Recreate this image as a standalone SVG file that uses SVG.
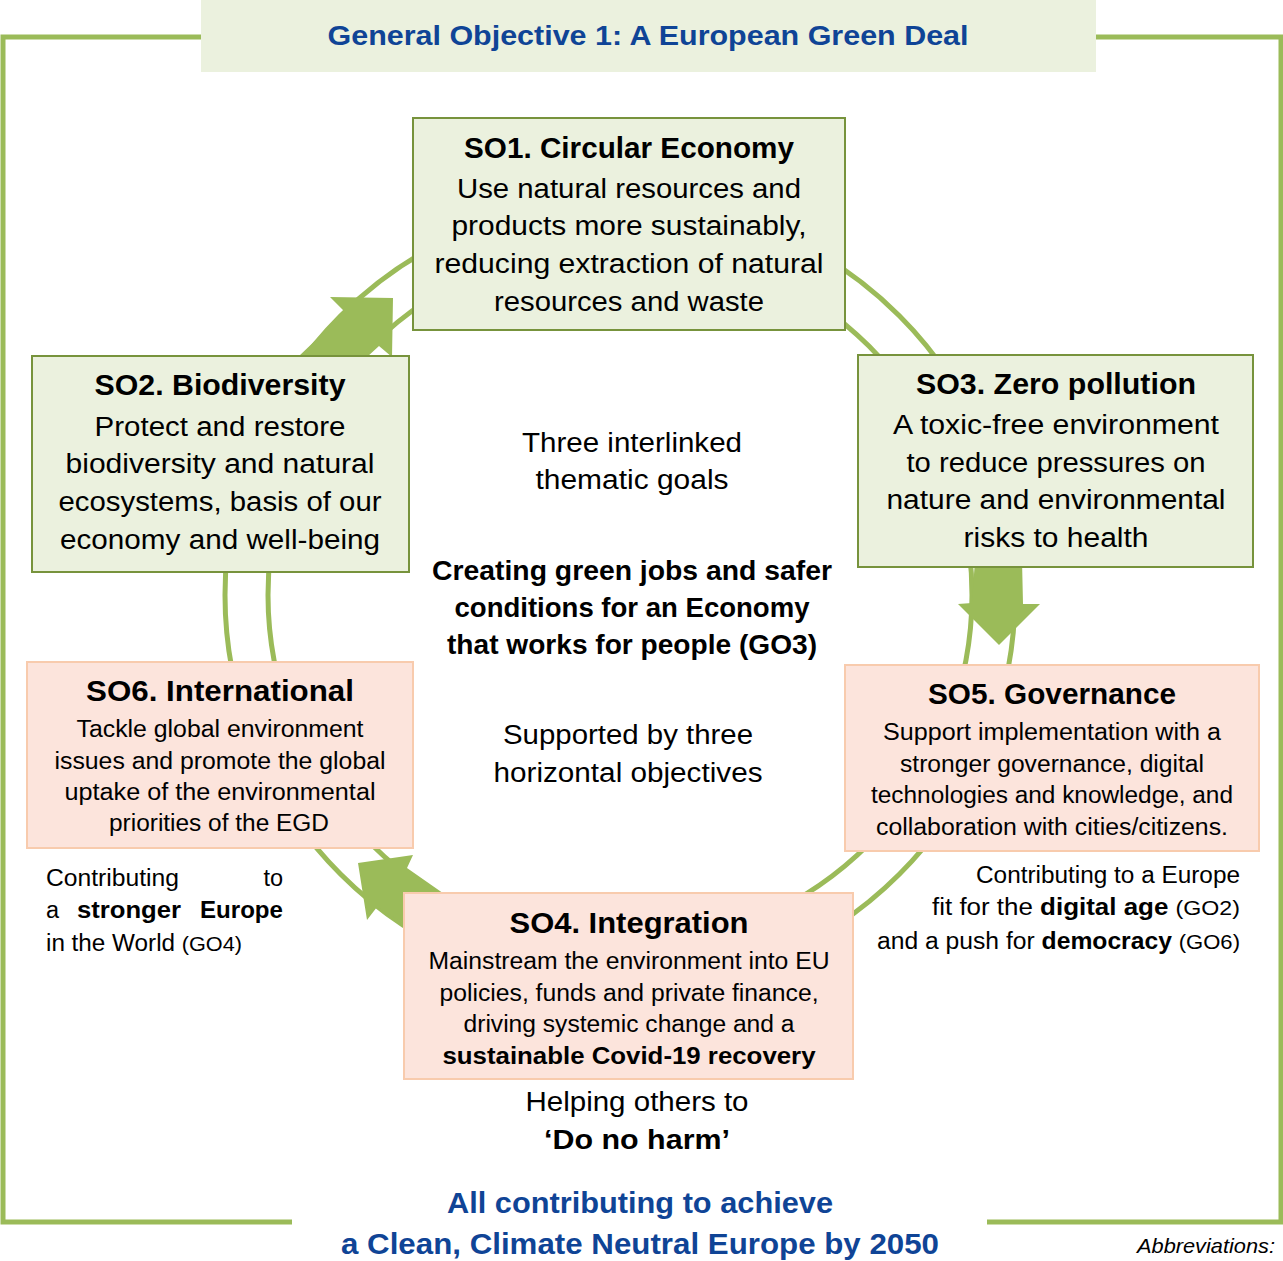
<svg xmlns="http://www.w3.org/2000/svg" width="1283" height="1261" viewBox="0 0 1283 1261">
<style>
text{font-family:"Liberation Sans",Arial,sans-serif;fill:#000}
.t{font-size:27px;text-anchor:middle}
.h{font-size:29px;font-weight:bold;text-anchor:middle}
.s{font-size:23.5px;text-anchor:middle}
.b{font-weight:bold}
.blue{fill:#0F4496;font-weight:bold;text-anchor:middle}
.g{fill:#EBF1DE;stroke:#77933C;stroke-width:2}
.p{fill:#FCE4DC;stroke:#F8CBAD;stroke-width:2}
.ring{fill:none;stroke:#9BBB59;stroke-width:5}
.arr{fill:#9BBB59}
</style>
<g id="frame">
<polyline points="201,37 3,37 3,1222 292,1222" fill="none" stroke="#9BBB59" stroke-width="5"/>
<polyline points="1096,37 1281,37 1281,1222 987,1222" fill="none" stroke="#9BBB59" stroke-width="5"/>
</g>
<g id="title">
<rect x="201" y="0" width="895" height="72" fill="#EBF1DE"/>
<text x="648" y="45" class="blue" font-size="28" textLength="641" lengthAdjust="spacingAndGlyphs">General Objective 1: A European Green Deal</text>
</g>
<g id="connectors">
<circle class="ring" cx="620" cy="595" r="395"/>
<circle class="ring" cx="620" cy="595" r="352"/>
<polygon class="arr" points="298,357 345,312 330,297 393,298 392,357 379,346 367,357"/>
<polygon class="arr" points="975,560 972,603 958,604 999,645 1040,604 1023,604 1022,560"/>
<polygon class="arr" points="358,863 413,855 407,868 470,912 440,945 377,907 367,920"/>
</g>
<g id="so1">
<rect class="g" x="413" y="118" width="432" height="212"/>
<text class="h" x="629" y="158" textLength="330" lengthAdjust="spacingAndGlyphs">SO1. Circular Economy</text>
<text class="t" x="629" y="198" textLength="344" lengthAdjust="spacingAndGlyphs">Use natural resources and</text>
<text class="t" x="629" y="235" textLength="355" lengthAdjust="spacingAndGlyphs">products more sustainably,</text>
<text class="t" x="629" y="273" textLength="389" lengthAdjust="spacingAndGlyphs">reducing extraction of natural</text>
<text class="t" x="629" y="311" textLength="270" lengthAdjust="spacingAndGlyphs">resources and waste</text>
</g>
<g id="so2">
<rect class="g" x="32" y="356" width="377" height="216"/>
<text class="h" x="220" y="395" textLength="251" lengthAdjust="spacingAndGlyphs">SO2. Biodiversity</text>
<text class="t" x="220" y="436" textLength="251" lengthAdjust="spacingAndGlyphs">Protect and restore</text>
<text class="t" x="220" y="473" textLength="309" lengthAdjust="spacingAndGlyphs">biodiversity and natural</text>
<text class="t" x="220" y="511" textLength="323" lengthAdjust="spacingAndGlyphs">ecosystems, basis of our</text>
<text class="t" x="220" y="549" textLength="320" lengthAdjust="spacingAndGlyphs">economy and well-being</text>
</g>
<g id="so3">
<rect class="g" x="858" y="355" width="395" height="212"/>
<text class="h" x="1056" y="394" textLength="280" lengthAdjust="spacingAndGlyphs">SO3. Zero pollution</text>
<text class="t" x="1056" y="434" textLength="326" lengthAdjust="spacingAndGlyphs">A toxic-free environment</text>
<text class="t" x="1056" y="472" textLength="299" lengthAdjust="spacingAndGlyphs">to reduce pressures on</text>
<text class="t" x="1056" y="509" textLength="339" lengthAdjust="spacingAndGlyphs">nature and environmental</text>
<text class="t" x="1056" y="547" textLength="185" lengthAdjust="spacingAndGlyphs">risks to health</text>
</g>
<g id="so6">
<rect class="p" x="27" y="662" width="386" height="186"/>
<text class="h" x="220" y="701" textLength="268" lengthAdjust="spacingAndGlyphs">SO6. International</text>
<text class="s" x="220" y="737" textLength="287" lengthAdjust="spacingAndGlyphs">Tackle global environment</text>
<text class="s" x="220" y="769" textLength="331" lengthAdjust="spacingAndGlyphs">issues and promote the global</text>
<text class="s" x="220" y="800" textLength="311" lengthAdjust="spacingAndGlyphs">uptake of the environmental</text>
<text class="s" x="219" y="831" textLength="220" lengthAdjust="spacingAndGlyphs">priorities of the EGD</text>
</g>
<g id="so5">
<rect class="p" x="845" y="665" width="414" height="186"/>
<text class="h" x="1052" y="704" textLength="248" lengthAdjust="spacingAndGlyphs">SO5. Governance</text>
<text class="s" x="1052" y="740" textLength="338" lengthAdjust="spacingAndGlyphs">Support implementation with a</text>
<text class="s" x="1052" y="772" textLength="304" lengthAdjust="spacingAndGlyphs">stronger governance, digital</text>
<text class="s" x="1052" y="803" textLength="362" lengthAdjust="spacingAndGlyphs">technologies and knowledge, and</text>
<text class="s" x="1052" y="835" textLength="352" lengthAdjust="spacingAndGlyphs">collaboration with cities/citizens.</text>
</g>
<g id="so4">
<rect class="p" x="404" y="893" width="449" height="186"/>
<text class="h" x="629" y="933" textLength="239" lengthAdjust="spacingAndGlyphs">SO4. Integration</text>
<text class="s" x="629" y="969" textLength="401" lengthAdjust="spacingAndGlyphs">Mainstream the environment into EU</text>
<text class="s" x="629" y="1001" textLength="379" lengthAdjust="spacingAndGlyphs">policies, funds and private finance,</text>
<text class="s" x="629" y="1032" textLength="331" lengthAdjust="spacingAndGlyphs">driving systemic change and a</text>
<text class="s b" x="629" y="1064" textLength="373" lengthAdjust="spacingAndGlyphs">sustainable Covid-19 recovery</text>
</g>
<g id="center-text">
<text class="t" x="632" y="452" textLength="220" lengthAdjust="spacingAndGlyphs">Three interlinked</text>
<text class="t" x="632" y="489" textLength="193" lengthAdjust="spacingAndGlyphs">thematic goals</text>
<text class="t b" x="632" y="580" font-size="26" textLength="400" lengthAdjust="spacingAndGlyphs">Creating green jobs and safer</text>
<text class="t b" x="632" y="617" font-size="26" textLength="355" lengthAdjust="spacingAndGlyphs">conditions for an Economy</text>
<text class="t b" x="632" y="654" font-size="26" textLength="370" lengthAdjust="spacingAndGlyphs">that works for people (GO3)</text>
<text class="t" x="628" y="744" textLength="250" lengthAdjust="spacingAndGlyphs">Supported by three</text>
<text class="t" x="628" y="782" textLength="269" lengthAdjust="spacingAndGlyphs">horizontal objectives</text>
</g>
<g id="side-text">
<text x="46" y="886" font-size="23.5" textLength="133" lengthAdjust="spacingAndGlyphs">Contributing</text>
<text x="283" y="886" font-size="23.5" text-anchor="end">to</text>
<text x="46" y="918" font-size="23.5">a</text>
<text x="77" y="918" font-size="23.5" class="b" textLength="104" lengthAdjust="spacingAndGlyphs">stronger</text>
<text x="283" y="918" font-size="23.5" class="b" text-anchor="end" textLength="83" lengthAdjust="spacingAndGlyphs">Europe</text>
<text x="46" y="951" font-size="23.5" textLength="196" lengthAdjust="spacingAndGlyphs">in the World <tspan font-size="21">(GO4)</tspan></text>
<text x="1240" y="883" font-size="23.5" text-anchor="end" textLength="264" lengthAdjust="spacingAndGlyphs">Contributing to a Europe</text>
<text x="1240" y="915" font-size="23.5" text-anchor="end" textLength="308" lengthAdjust="spacingAndGlyphs">fit for the <tspan class="b">digital age</tspan> <tspan font-size="21">(GO2)</tspan></text>
<text x="1240" y="949" font-size="23.5" text-anchor="end" textLength="363" lengthAdjust="spacingAndGlyphs">and a push for <tspan class="b">democracy</tspan> <tspan font-size="21">(GO6)</tspan></text>
</g>
<g id="bottom-text">
<text class="t" x="637" y="1111" textLength="223" lengthAdjust="spacingAndGlyphs">Helping others to</text>
<text class="t b" x="637" y="1149" textLength="186" lengthAdjust="spacingAndGlyphs">‘Do no harm’</text>
<text class="blue" x="640" y="1213" font-size="29" textLength="386" lengthAdjust="spacingAndGlyphs">All contributing to achieve</text>
<text class="blue" x="640" y="1254" font-size="29" textLength="598" lengthAdjust="spacingAndGlyphs">a Clean, Climate Neutral Europe by 2050</text>
<text x="1275" y="1253" font-size="21" font-style="italic" text-anchor="end" textLength="138" lengthAdjust="spacingAndGlyphs">Abbreviations:</text>
</g>
</svg>
